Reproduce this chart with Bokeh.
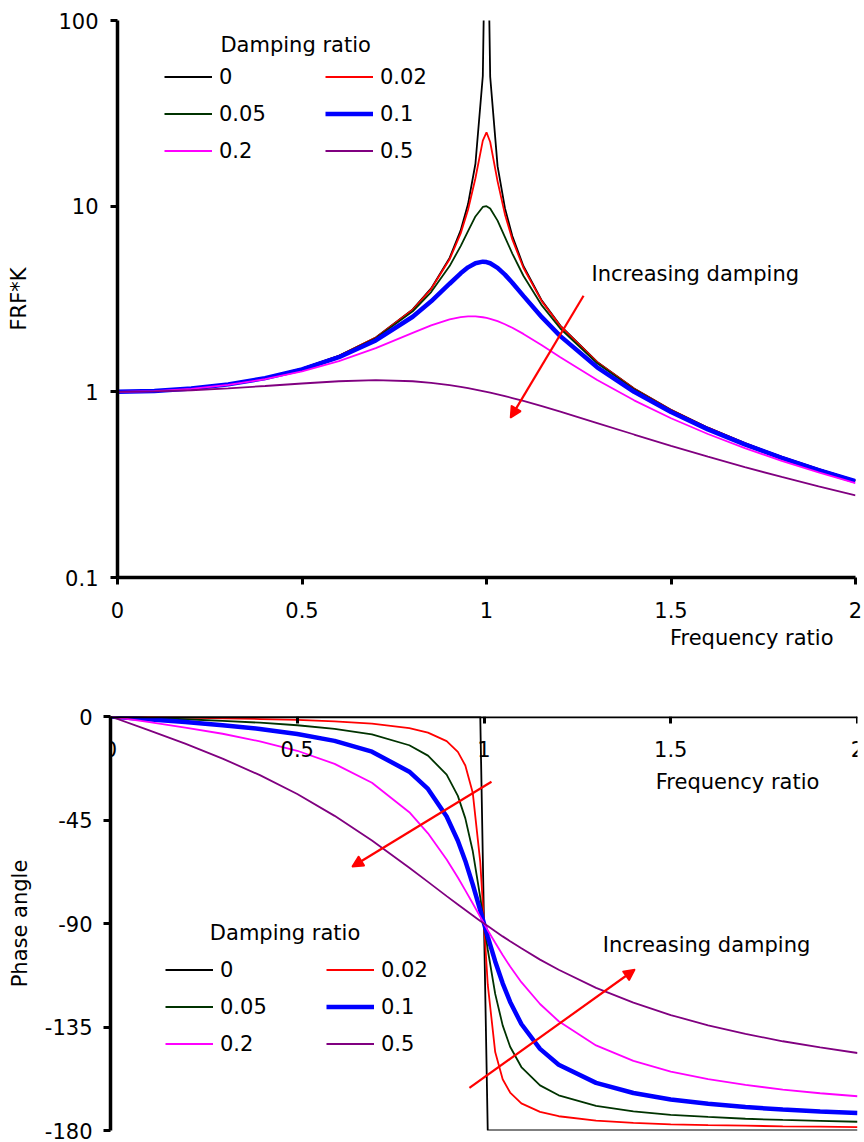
from bokeh.plotting import figure
from bokeh.models import (Range1d, LinearAxis, FixedTicker, CustomJSTickFormatter,
                          Label, Arrow, NormalHead, Title)
from bokeh.embed import file_html
from bokeh.resources import INLINE

# ---------------- data ----------------
ratio = [0, 0.1, 0.2, 0.3, 0.4, 0.5, 0.6, 0.7, 0.8, 0.85, 0.9, 0.93, 0.95, 0.97, 0.99,
         1.0, 1.01, 1.03, 1.05, 1.07, 1.1, 1.15, 1.2, 1.3, 1.4, 1.5, 1.6, 1.7, 1.8, 1.9, 2.0]

damping_labels = ["0", "0.02", "0.05", "0.1", "0.2", "0.5"]

frf_0 = [1.0, 1.01, 1.042, 1.099, 1.19, 1.333, 1.563, 1.961, 2.778, 3.604, 5.263, 7.402, 10.26, 16.92, 50.25,
         1000, 49.75, 16.42, 9.756, 6.901, 4.762, 3.101, 2.273, 1.449, 1.042, 0.8, 0.641, 0.529, 0.446, 0.383, 0.333]
frf_002 = [1.0, 1.01, 1.042, 1.099, 1.19, 1.333, 1.561, 1.958, 2.767, 3.577, 5.171, 7.136, 9.556, 14.14, 22.56,
           25.0, 22.16, 13.6, 9.028, 6.619, 4.661, 3.07, 2.259, 1.445, 1.04, 0.799, 0.641, 0.529, 0.446, 0.383, 0.333]
frf_005 = [1.0, 1.01, 1.041, 1.098, 1.189, 1.33, 1.556, 1.943, 2.712, 3.446, 4.757, 6.097, 7.346, 8.804, 9.903,
           10.0, 9.711, 8.357, 6.815, 5.552, 4.218, 2.921, 2.193, 1.424, 1.031, 0.794, 0.638, 0.527, 0.445, 0.382, 0.333]
frf_01 = [1.0, 1.01, 1.041, 1.097, 1.185, 1.322, 1.536, 1.891, 2.538, 3.073, 3.821, 4.35, 4.683, 4.931, 5.025,
          5.0, 4.926, 4.655, 4.279, 3.869, 3.288, 2.524, 1.995, 1.356, 1.0, 0.778, 0.628, 0.521, 0.441, 0.379, 0.33]
frf_02 = [1.0, 1.009, 1.038, 1.089, 1.169, 1.288, 1.463, 1.719, 2.076, 2.279, 2.457, 2.527, 2.549, 2.548, 2.522,
          2.5, 2.472, 2.401, 2.313, 2.213, 2.051, 1.78, 1.536, 1.157, 0.9, 0.721, 0.593, 0.498, 0.425, 0.368, 0.322]
frf_05 = [1.0, 1.005, 1.02, 1.044, 1.075, 1.109, 1.14, 1.155, 1.14, 1.118, 1.087, 1.064, 1.047, 1.029, 1.01,
          1.0, 0.99, 0.969, 0.948, 0.926, 0.893, 0.837, 0.782, 0.679, 0.589, 0.512, 0.448, 0.393, 0.348, 0.31, 0.277]

ph_0 = [0, 0, 0, 0, 0, 0, 0, 0, 0, 0, 0, 0, 0, 0, 0,
        -90, -180, -180, -180, -180, -180, -180, -180, -180, -180, -180, -180, -180, -180, -180, -180]
ph_002 = [0, -0.2, -0.5, -0.8, -1.1, -1.5, -2.1, -3.1, -5.1, -7.0, -10.7, -15.4, -21.3, -33.3, -63.3,
          -90, -116.5, -145.9, -157.7, -163.5, -168.2, -171.9, -173.8, -175.7, -176.7, -177.3, -177.7, -177.9, -178.2, -178.3, -178.5]
ph_005 = [0, -0.6, -1.2, -1.9, -2.7, -3.8, -5.4, -7.8, -12.5, -17.0, -25.3, -34.5, -44.3, -58.6, -78.6,
          -90, -101.3, -120.6, -134.3, -143.6, -152.4, -160.4, -164.7, -169.3, -171.7, -173.2, -174.1, -174.9, -175.4, -175.8, -176.2]
ph_01 = [0, -1.2, -2.4, -3.8, -5.4, -7.6, -10.6, -15.3, -24.0, -31.5, -43.5, -54.0, -62.8, -73.1, -84.3,
         -90, -95.7, -106.5, -116.0, -124.1, -133.7, -144.5, -151.4, -159.3, -163.7, -166.5, -168.4, -169.8, -170.9, -171.7, -172.4]
ph_02 = [0, -2.3, -4.8, -7.5, -10.8, -14.9, -20.6, -28.8, -41.6, -50.8, -62.2, -70.0, -75.6, -81.3, -87.1,
         -90, -92.9, -98.4, -103.7, -108.7, -115.5, -125.0, -132.5, -143.0, -149.7, -154.4, -157.7, -160.2, -162.2, -163.8, -165.1]
ph_05 = [0, -5.8, -11.8, -18.3, -25.5, -33.7, -43.2, -53.9, -65.8, -71.9, -78.1, -81.7, -84.1, -86.5, -88.9,
         -90, -91.1, -93.4, -95.6, -97.7, -100.8, -105.7, -110.1, -118.0, -124.4, -129.8, -134.3, -138.0, -141.2, -143.9, -146.3]

x_ticks = [0, 0.5, 1, 1.5, 2]
frf_ticks = [0.1, 1, 10, 100]
phase_ticks = [0, -45, -90, -135, -180]

colors = ["#000000", "#FF0000", "#003300", "#0000FF", "#FF00FF", "#800080"]
widths = [1.8, 1.8, 1.8, 4.5, 1.8, 1.8]

FONT = "DejaVu Sans"
FS = "21px"
fmt = CustomJSTickFormatter(code="return String(tick);")


def style_axis(ax, ticks, standoff):
    ax.ticker = FixedTicker(ticks=ticks, minor_ticks=[])
    ax.formatter = fmt
    ax.axis_line_width = 3.5
    ax.axis_line_color = "black"
    ax.major_tick_line_width = 3
    ax.major_tick_out = 7
    ax.major_tick_in = 0
    ax.minor_tick_line_color = None
    ax.major_label_text_font = FONT
    ax.major_label_text_font_size = FS
    ax.major_label_text_color = "black"
    ax.major_label_standoff = standoff
    ax.axis_label_text_font = FONT
    ax.axis_label_text_font_size = FS
    ax.axis_label_text_font_style = "normal"
    ax.axis_label_text_color = "black"


def style_legend(lg, loc):
    lg.orientation = "horizontal"
    lg.ncols = 2
    lg.location = loc
    lg.padding = 0
    lg.margin = 0
    lg.spacing = 12
    lg.border_line_color = None
    lg.background_fill_alpha = 0
    lg.glyph_width = 48
    lg.glyph_height = 25
    lg.label_height = 25
    lg.label_width = 94
    lg.label_standoff = 7
    lg.label_text_font = FONT
    lg.label_text_font_size = FS
    lg.label_text_color = "black"


def txt(x, y, s, **kw):
    return Label(x=x, y=y, text=s, text_font=FONT, text_font_size=FS, text_color="black",
                 text_baseline="middle", **kw)


def arrow(x0, y0, x1, y1):
    return Arrow(end=NormalHead(size=11, fill_color="#FF0000", line_color="#FF0000", line_width=1.5),
                 x_start=x0, y_start=y0, x_end=x1, y_end=y1,
                 line_color="#FF0000", line_width=2.2)


# ---------------- top: magnitude ----------------
p1 = figure(width=864, height=700, x_range=Range1d(0, 2), y_range=Range1d(0.1, 100),
            y_axis_type="log", output_backend="svg", toolbar_location=None,
            min_border_left=117, min_border_right=9, min_border_top=20, min_border_bottom=123)
p1.outline_line_color = None
p1.xgrid.visible = False
p1.ygrid.visible = False

frfs = [frf_0, frf_002, frf_005, frf_01, frf_02, frf_05]
for vals, lab, c, w in zip(frfs, damping_labels, colors, widths):
    p1.line(ratio, vals, line_color=c, line_width=w, legend_label=lab)

style_axis(p1.xaxis[0], x_ticks, 17)
style_axis(p1.yaxis[0], frf_ticks, 12)
p1.yaxis[0].axis_label = "FRF*K"
p1.yaxis[0].axis_label_standoff = 24
style_legend(p1.legend[0], (47, 414))

p1.add_layout(Title(text="Frequency ratio", align="right", offset=22, standoff=6,
                    text_font=FONT, text_font_size=FS, text_font_style="normal",
                    text_color="black"), "below")
p1.add_layout(txt(0.279, 73.9, "Damping ratio"))
p1.add_layout(txt(1.2846, 4.32, "Increasing damping"))
p1.add_layout(arrow(1.263, 3.29, 1.065, 0.724))

# ---------------- bottom: phase ----------------
p2 = figure(width=864, height=442, x_range=Range1d(0, 2), y_range=Range1d(-180, 0),
            x_axis_location=None, output_backend="svg", toolbar_location=None,
            min_border_left=110, min_border_right=7, min_border_top=16, min_border_bottom=12)
p2.outline_line_color = None
p2.xgrid.visible = False
p2.ygrid.visible = False

phs = [ph_0, ph_002, ph_005, ph_01, ph_02, ph_05]
for vals, lab, c, w in zip(phs, damping_labels, colors, widths):
    p2.line(ratio, vals, line_color=c, line_width=w, legend_label=lab)

xa = LinearAxis(fixed_location=0)
style_axis(xa, x_ticks, 17)
p2.add_layout(xa, "below")
style_axis(p2.yaxis[0], phase_ticks, 11)
p2.yaxis[0].axis_label = "Phase angle"
p2.yaxis[0].axis_label_standoff = 10
style_legend(p2.legend[0], (55, 74))

p2.add_layout(txt(0.266, -94.1, "Damping ratio"))
p2.add_layout(txt(1.318, -99.2, "Increasing damping"))
p2.add_layout(txt(1.46, -28.35, "Frequency ratio"))
p2.add_layout(arrow(1.02, -28.35, 0.647, -65.3))
p2.add_layout(arrow(0.961, -161.5, 1.404, -110.0))

open("out.html", "w").write(file_html([p1, p2], INLINE))
